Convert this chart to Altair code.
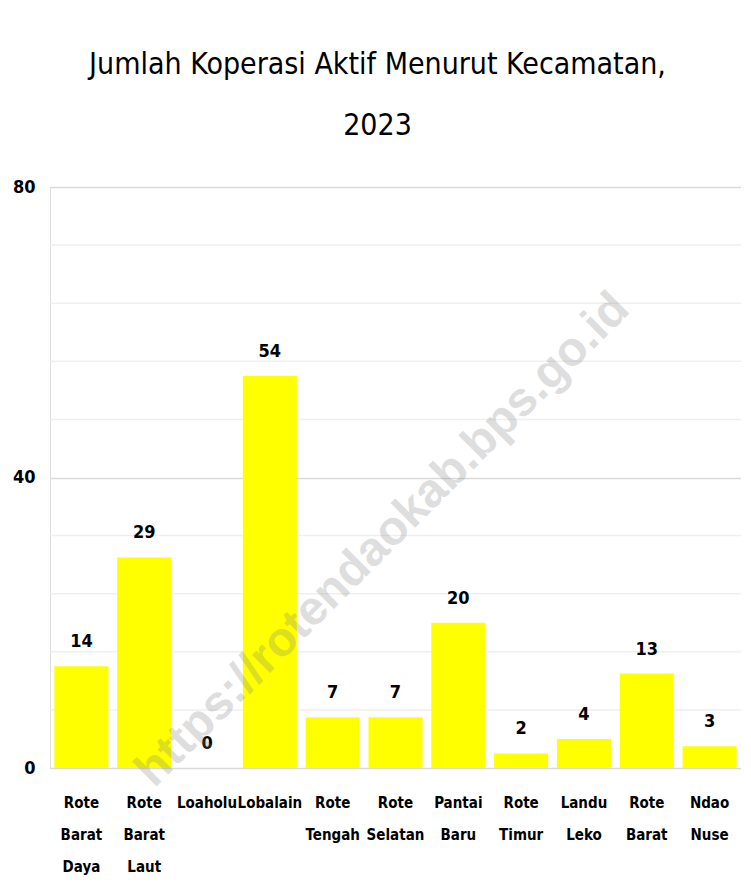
import altair as alt
import pandas as pd

categories = ["Rote Barat Daya", "Rote Barat Laut", "Loaholu", "Lobalain", "Rote Tengah",
              "Rote Selatan", "Pantai Baru", "Rote Timur", "Landu Leko", "Rote Barat", "Ndao Nuse"]
values = [14, 29, 0, 54, 7, 7, 20, 2, 4, 13, 3]
major_ticks = [0, 40, 80]
minor_ticks = [8, 16, 24, 32, 48, 56, 64, 72]
title_lines = ["Jumlah Koperasi Aktif Menurut Kecamatan,", "2023"]
watermark = ["https://rotendaokab.bps.go.id"]

df = pd.DataFrame({"Kecamatan": categories, "Jumlah": values})
minor_df = pd.DataFrame({"Jumlah": minor_ticks})
wm_df = pd.DataFrame({"t": watermark})

FONT = "DejaVu Sans Condensed, Roboto, sans-serif"

yaxis = alt.Axis(values=major_ticks, title=None, ticks=False, domain=False,
                 labelFont=FONT, labelFontWeight="bold", labelFontSize=18,
                 labelColor="black", labelPadding=15,
                 gridColor="#d9d9d9", gridWidth=1.5)
yscale = alt.Scale(domain=[0, 80], nice=False)
xscale = alt.Scale(paddingInner=0.14, paddingOuter=0.07)
xaxis = alt.Axis(title=None, labelAngle=0, labelExpr="split(datum.label, ' ')",
                 ticks=False, domain=False, grid=False,
                 labelFont=FONT, labelFontWeight="bold", labelFontSize=15,
                 labelLineHeight=32, labelPadding=27, labelColor="black", labelLimit=0)

minor = alt.Chart(minor_df).mark_rule(color="#efefef", strokeWidth=1.5).encode(
    y=alt.Y("Jumlah:Q", scale=yscale, axis=yaxis)
)

base = alt.Chart(df).encode(
    x=alt.X("Kecamatan:N", sort=categories, scale=xscale, axis=xaxis),
    y=alt.Y("Jumlah:Q", scale=yscale, axis=yaxis),
)
bars = base.mark_bar(color="#FFFF00")
labels = base.mark_text(dy=-19, baseline="alphabetic", font=FONT, fontWeight="bold",
                        fontSize=18, color="black").encode(text="Jumlah:Q")

wm = alt.Chart(wm_df).mark_text(angle=315, fontSize=48, font="Liberation Sans",
                                fontWeight="bold", color="#808080", opacity=0.25,
                                align="center", baseline="middle").encode(
    x=alt.value(333), y=alt.value(353), text="t:N"
)

chart = alt.layer(minor, bars, labels, wm).properties(
    width=691, height=581,
    title=alt.TitleParams(text=title_lines, font=FONT, fontSize=30, fontWeight="normal",
                          color="black", lineHeight=61, anchor="middle", dx=-18, offset=37),
    autosize=alt.AutoSizeParams(type="none"),
    padding={"left": 42, "top": 179, "right": 0, "bottom": 120},
).configure_view(stroke=None).configure(background="white")

chart.save("out.html", embed_options={"renderer": "svg", "actions": False})
